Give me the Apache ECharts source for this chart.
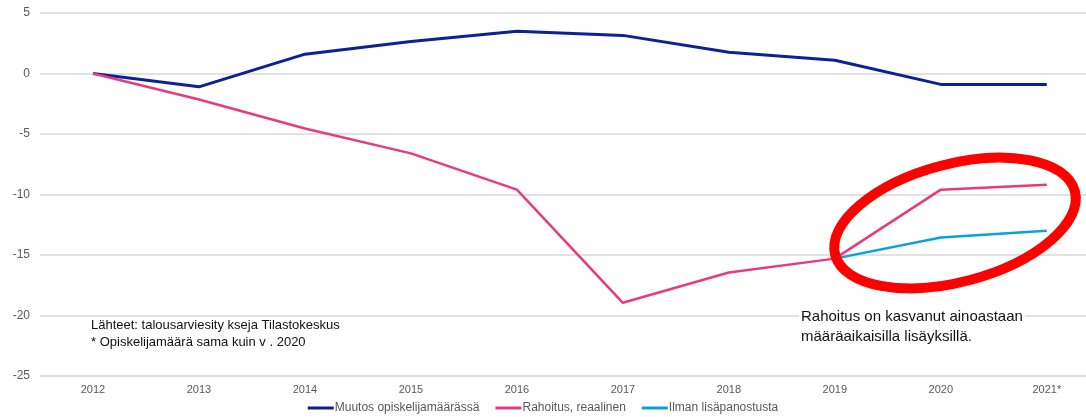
<!DOCTYPE html>
<html><head><meta charset="utf-8">
<script src="https://cdn.jsdelivr.net/npm/echarts@6/dist/echarts.min.js"></script>
<style>html,body{margin:0;padding:0;background:#fff}#c{width:1086px;height:417px}</style>
</head><body><div id="c"></div>
<script>
var categories = ['2012','2013','2014','2015','2016','2017','2018','2019','2020','2021*'];
var opiskelijat = [0, -1.1, 1.6, 2.65, 3.5, 3.15, 1.75, 1.1, -0.9, -0.9];
var rahoitus = [0, -2.15, -4.55, -6.6, -9.6, -18.95, -16.45, -15.3, -9.6, -9.2];
var ilman = [null, null, null, null, null, null, null, -15.3, -13.55, -13.0];
var seriesNames = ['Muutos opiskelijamäärässä', 'Rahoitus, reaalinen', 'Ilman lisäpanostusta'];
var colors = ['#0b2196', '#e63b7f', '#0aa0dc'];

function pairs(arr){ var out=[]; arr.forEach(function(v,i){ if(v!==null) out.push([i,v]); }); return out; }

var chart = echarts.init(document.getElementById('c'));
chart.setOption({
  animation: false,
  grid: {left: 40, right: 0, top: 13, bottom: 41},
  xAxis: {
    type: 'value', min: -0.5, max: 9.37,
    axisLine: {show: false}, axisTick: {show: false}, splitLine: {show: false},
    axisLabel: {customValues: [0,1,2,3,4,5,6,7,8,9], formatter: function(v){ return categories[Math.round(v)]; },
      color: '#595959', fontSize: 11, fontFamily: 'Liberation Sans', margin: 8}
  },
  yAxis: {
    type: 'value', min: -25, max: 5, interval: 5,
    axisLine: {show: false}, axisTick: {show: false},
    splitLine: {lineStyle: {color: '#d9d9d9', width: 1.5}},
    axisLabel: {color: '#595959', fontSize: 12, fontFamily: 'Liberation Sans', margin: 10}
  },
  legend: {
    bottom: -2, left: 'center', itemWidth: 26, itemHeight: 3, itemGap: 16,
    icon: 'rect',
    textStyle: {color: '#595959', fontSize: 12, fontFamily: 'Liberation Sans', padding: [0,0,0,-4]},
    data: seriesNames
  },
  series: [
    {name: seriesNames[0], type: 'line', data: pairs(opiskelijat), symbol: 'none', lineStyle: {color: colors[0], width: 3}, itemStyle: {color: colors[0]}},
    {name: seriesNames[1], type: 'line', data: pairs(rahoitus), symbol: 'none', lineStyle: {color: colors[1], width: 2.5}, itemStyle: {color: colors[1]}},
    {name: seriesNames[2], type: 'line', data: pairs(ilman), symbol: 'none', lineStyle: {color: colors[2], width: 2.5}, itemStyle: {color: colors[2]}}
  ],
  graphic: [
    {type: 'ellipse', x: 955, y: 223, rotation: 0.26, shape: {cx: 0, cy: 0, rx: 124, ry: 59},
     style: {fill: 'none', stroke: '#ff0000', lineWidth: 10}, z: 100},
    {type: 'text', left: 91, top: 317, style: {text: 'Lähteet: talousarviesity kseja Tilastokeskus\n* Opiskelijamäärä sama kuin v . 2020',
      fill: '#111', font: '13px "Liberation Sans"', lineHeight: 17}},
    {type: 'text', left: 799, top: 305, z: 50, style: {text: 'Rahoitus on kasvanut ainoastaan\nmääräaikaisilla lisäyksillä.',
      fill: '#111', font: '15px "Liberation Sans"', lineHeight: 20, backgroundColor: '#fff', padding: [2, 2, 2, 2]}}
  ]
});
</script></body></html>
